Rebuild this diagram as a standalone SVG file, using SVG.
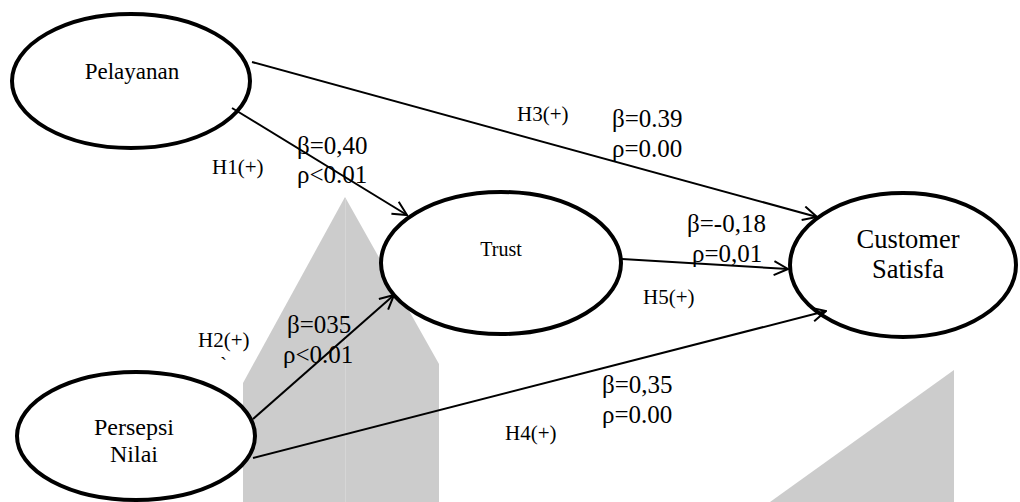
<svg xmlns="http://www.w3.org/2000/svg" width="1020" height="502" viewBox="0 0 1020 502">
<defs>
<style>
.bg{fill:#cccccc;stroke:none}
.node{fill:#ffffff;stroke:#000000;stroke-width:4}
.edge{fill:none;stroke:#000000;stroke-width:2;marker-end:url(#arr)}
text{font-family:"Liberation Serif","Times New Roman",serif;fill:#000000}
.h{font-size:21px}
.b{font-size:25px}
</style>
<marker id="arr" viewBox="0 0 16 16" refX="15" refY="8" markerWidth="16" markerHeight="16" markerUnits="userSpaceOnUse" orient="auto">
<path d="M1,1 L15,8 L1,15" fill="none" stroke="#000000" stroke-width="2"/>
</marker>
</defs>
<g id="background">
<polygon class="bg" points="345,197 439,364 439,502 243,502 243,383"/>
<line x1="345.5" y1="199" x2="345.5" y2="502" stroke="#d6d6d6" stroke-width="1"/>
<polygon class="bg" points="954,370 954,502 770,502"/>
</g>
<g id="pelayanan">
<ellipse class="node" cx="131" cy="81" rx="119" ry="67"/>
<text x="132" y="79" font-size="23" text-anchor="middle">Pelayanan</text>
</g>
<g id="trust">
<ellipse class="node" cx="501" cy="263" rx="120" ry="71"/>
<text x="501" y="256" font-size="20" text-anchor="middle">Trust</text>
</g>
<g id="customer-satisfa">
<ellipse class="node" cx="903" cy="265" rx="113" ry="72"/>
<text x="908" y="248" font-size="26.5" text-anchor="middle">Customer</text>
<text x="908" y="278" font-size="26.5" text-anchor="middle">Satisfa</text>
</g>
<g id="persepsi-nilai">
<ellipse class="node" cx="136" cy="436" rx="119" ry="64"/>
<text x="134" y="435" font-size="24" text-anchor="middle">Persepsi</text>
<text x="134" y="462" font-size="24" text-anchor="middle">Nilai</text>
</g>
<g id="connectors">
<line class="edge" x1="252" y1="62" x2="817" y2="217"/>
<line class="edge" x1="232" y1="108" x2="407" y2="215"/>
<line class="edge" x1="622" y1="259" x2="788" y2="269"/>
<line class="edge" x1="253" y1="419" x2="394" y2="295"/>
<line class="edge" x1="253" y1="458" x2="826" y2="311"/>
</g>
<g id="labels">
<text class="h" x="212" y="174">H1(+)</text>
<text class="b" x="297" y="154">β=0,40</text>
<text class="b" x="297" y="183">ρ&lt;0.01</text>
<text class="h" x="517" y="121">H3(+)</text>
<text class="b" x="612" y="127">β=0.39</text>
<text class="b" x="612" y="157">ρ=0.00</text>
<text class="b" x="687" y="232">β=-0,18</text>
<text class="b" x="692" y="262">ρ=0,01</text>
<text class="h" x="643" y="304">H5(+)</text>
<text class="h" x="198" y="347">H2(+)</text>
<text class="h" x="220" y="372">`</text>
<text class="b" x="287" y="333">β=035</text>
<text class="b" x="283" y="363">ρ&lt;0.01</text>
<text class="b" x="602" y="393">β=0,35</text>
<text class="b" x="602" y="423">ρ=0.00</text>
<text class="h" x="505" y="440">H4(+)</text>
</g>
</svg>
